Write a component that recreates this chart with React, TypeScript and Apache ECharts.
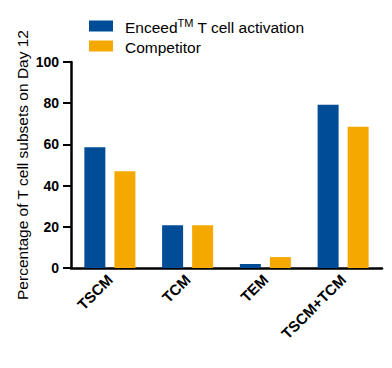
import React, { useEffect, useRef } from "react";
import * as echarts from "echarts";

const categories = ["TSCM", "TCM", "TEM", "TSCM+TCM"];
const enceedValues = [58.6, 20.8, 1.9, 79.2];
const competitorValues = [47.0, 20.8, 5.3, 68.6];
const seriesNames = ["Enceed", "Competitor"];
const yTicks = [0, 20, 40, 60, 80, 100];

export default function App() {
  const ref = useRef<HTMLDivElement>(null);
  useEffect(() => {
    if (!ref.current) return;
    const chart = echarts.init(ref.current, null, { renderer: "svg" });
    const font = "'Liberation Sans', Arial, sans-serif";
    chart.setOption({
      animation: false,
      textStyle: { fontFamily: font },
      legend: {
        orient: "vertical",
        left: 89,
        top: 17,
        padding: 0,
        itemWidth: 24,
        itemHeight: 11,
        itemGap: 3,
        icon: "rect",
        formatter: (name: string) =>
          name === "Enceed" ? "{t|Enceed}{sup|TM}{t| T cell activation}" : "{t|Competitor}",
        textStyle: {
          fontFamily: font,
          fontSize: 15.5,
          color: "#000",
          padding: [0, 0, 0, 7],
          rich: {
            t: { fontSize: 15.5, fontFamily: font, color: "#000", verticalAlign: "bottom", lineHeight: 18 },
            sup: { fontSize: 11, fontFamily: font, color: "#000", verticalAlign: "top", padding: [0, 0, 8, 0], lineHeight: 18 },
          },
        },
        data: seriesNames,
      },
      grid: { left: 71, right: 10, top: 62, bottom: 100, containLabel: false },
      xAxis: {
        type: "category",
        data: categories,
        axisLine: { lineStyle: { color: "#000", width: 2.5 } },
        axisTick: { alignWithLabel: true, length: 5, lineStyle: { color: "#000", width: 2 } },
        axisLabel: {
          rotate: 45,
          margin: 9,
          fontSize: 15,
          fontWeight: "bold",
          color: "#000",
          fontFamily: font,
          interval: 0,
        },
      },
      yAxis: {
        type: "value",
        min: yTicks[0],
        max: yTicks[yTicks.length - 1],
        interval: 20,
        name: "Percentage of T cell subsets on Day 12",
        nameLocation: "middle",
        nameGap: 41,
        nameMoveOverlap: false,
        nameTextStyle: { fontSize: 15.5, color: "#000", fontFamily: font },
        splitLine: { show: false },
        axisLine: { show: true, lineStyle: { color: "#000", width: 2.5 } },
        axisTick: { show: true, length: 8, lineStyle: { color: "#000", width: 2 } },
        axisLabel: { fontSize: 14, fontWeight: "bold", color: "#000", margin: 12, fontFamily: font },
      },
      series: [
        {
          name: seriesNames[0],
          type: "bar",
          data: enceedValues,
          barWidth: 21,
          barGap: "43%",
          itemStyle: { color: "#004C97" },
        },
        {
          name: seriesNames[1],
          type: "bar",
          data: competitorValues,
          barWidth: 21,
          itemStyle: { color: "#F5A800" },
        },
      ],
    });
    return () => chart.dispose();
  }, []);
  return <div ref={ref} style={{ width: 392, height: 368, position: "absolute", left: 0, top: 0 }} />;
}
